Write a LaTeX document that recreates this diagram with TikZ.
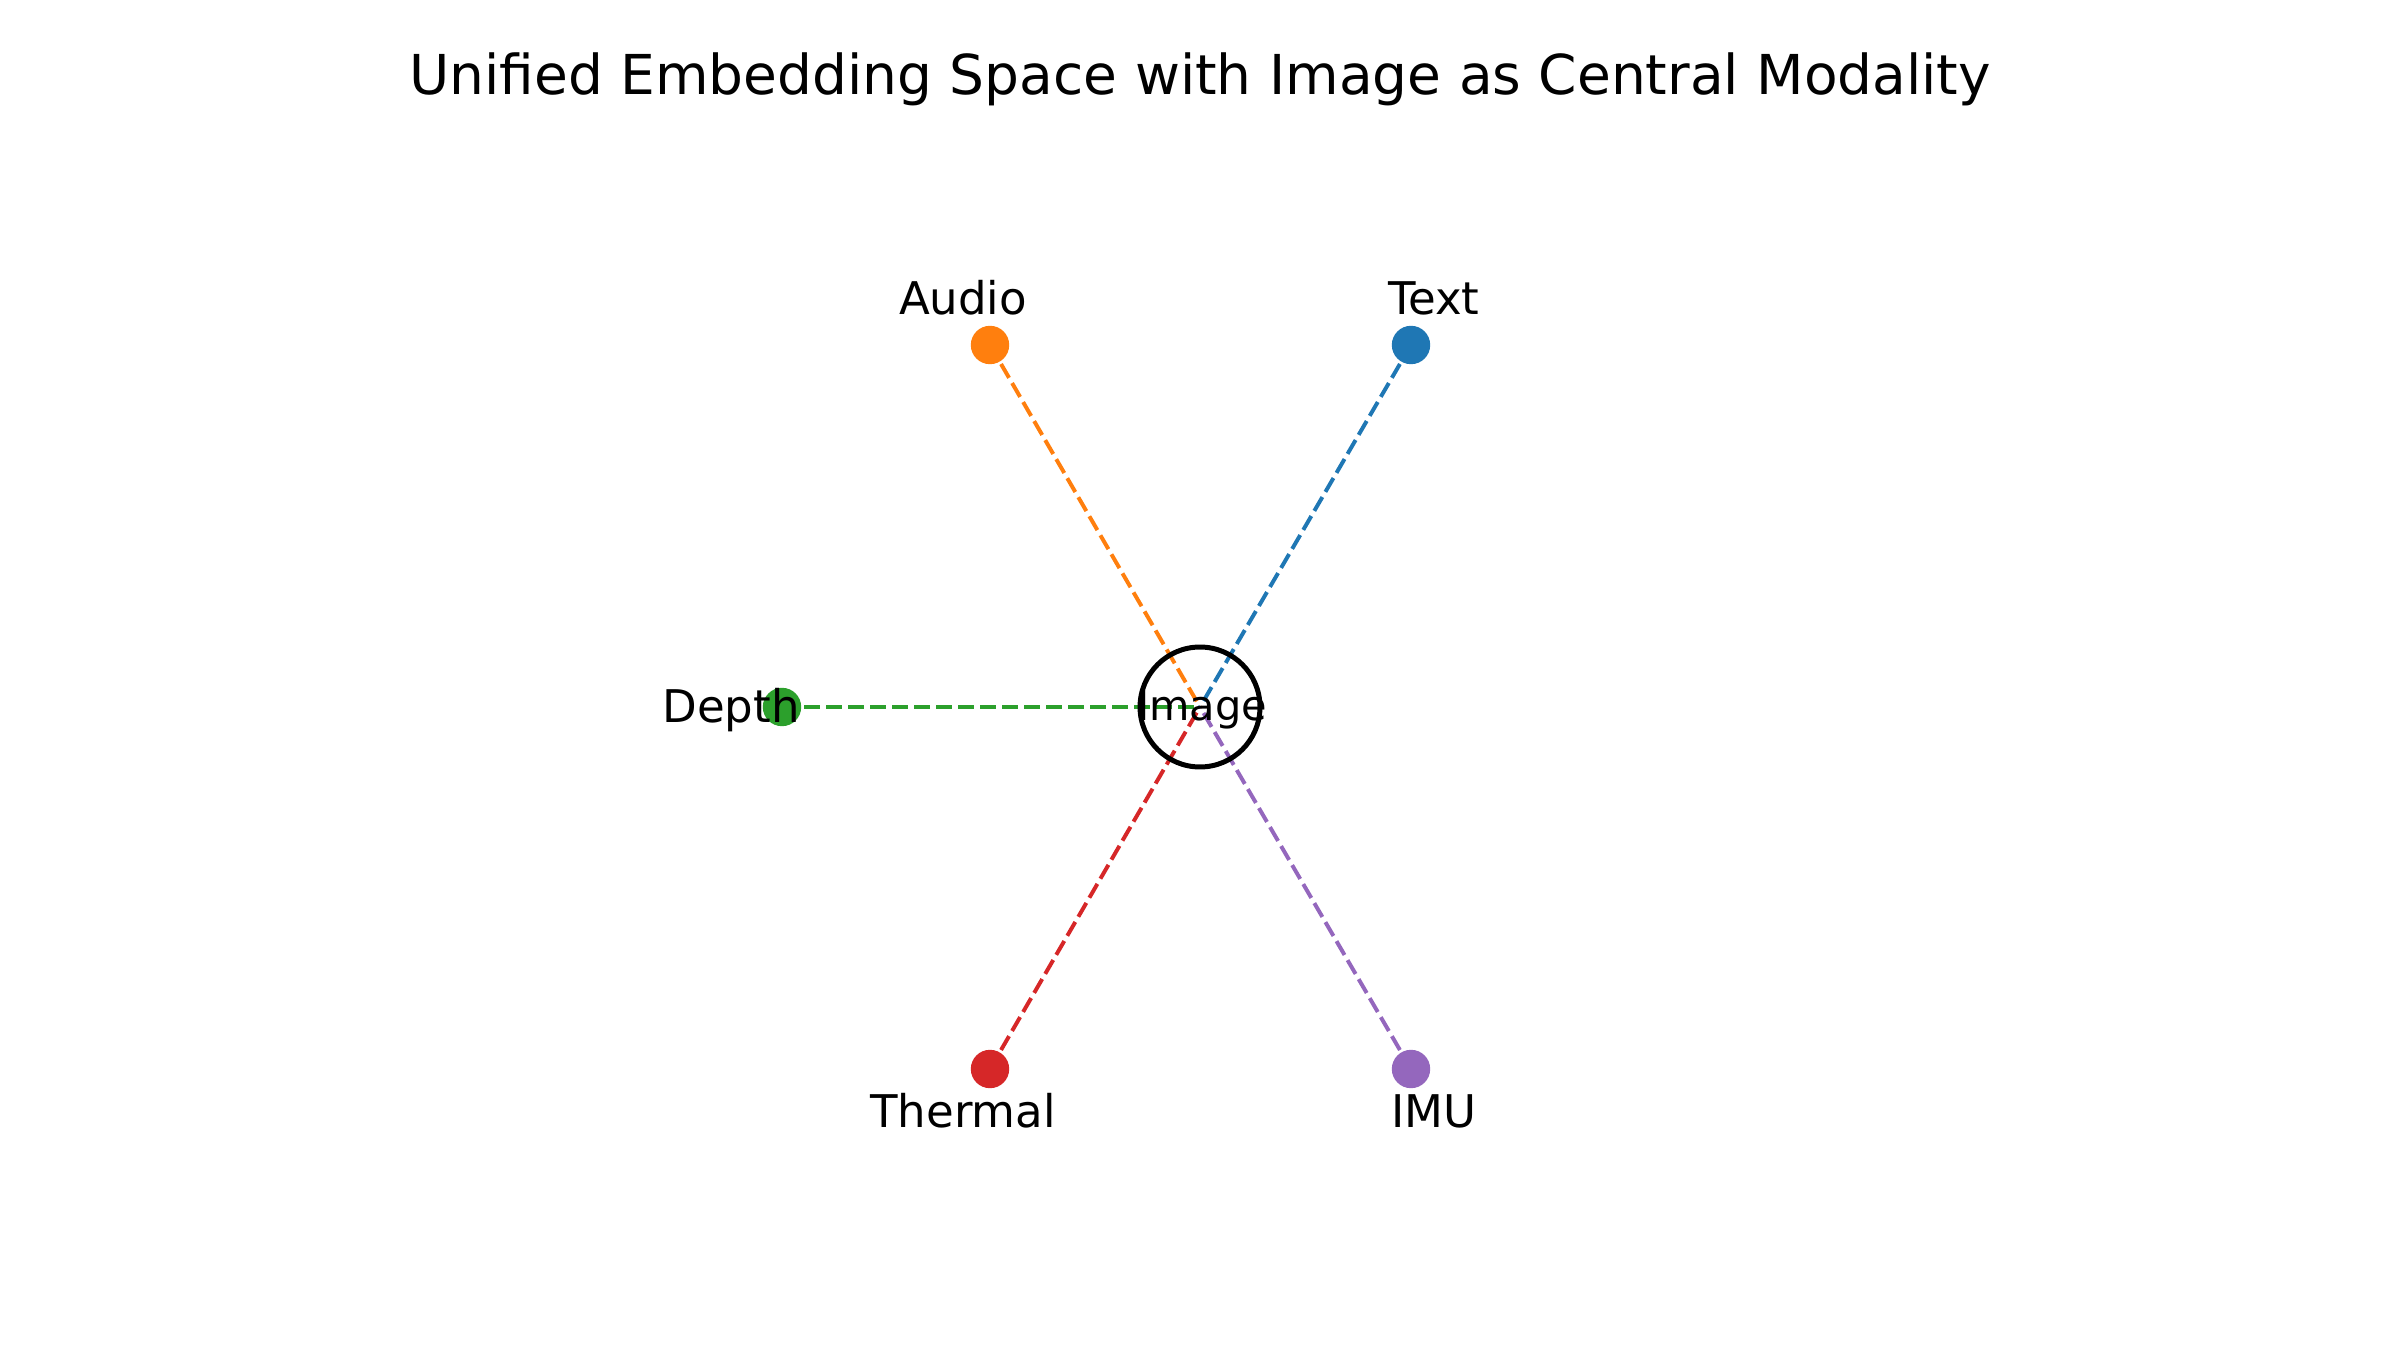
\documentclass[tikz,border=0pt]{standalone}
\usepackage{fontspec}
\setmainfont{DejaVu Sans}
\usepackage{tikz}
\usetikzlibrary{positioning,calc,backgrounds}
\definecolor{textcol}{HTML}{1F77B4}
\definecolor{audiocol}{HTML}{FF7F0E}
\definecolor{depthcol}{HTML}{2CA02C}
\definecolor{thermcol}{HTML}{D62728}
\definecolor{imucol}{HTML}{9467BD}

\begin{document}
\begin{tikzpicture}[x=0.4818pt,y=-0.4818pt,
  dot/.style={circle,inner sep=0pt,minimum size=18.5pt},
  hub/.style={circle,draw,line width=2.4pt,minimum size=57.8pt,inner sep=0pt},
  lbl/.style={anchor=base,inner sep=0pt,font=\fontsize{21.7}{26}\selectfont},
  link/.style={line width=1.9pt,dash pattern=on 7.7pt off 2.9pt}]
  \useasboundingbox (0,0) rectangle (2400,1350);
  % title
  \node[lbl,font=\fontsize{26.5}{32}\selectfont] (title) at (1200,95) {Unified Embedding Space with Image as Central Modality};
  % centre and modalities
  \node[hub] (img) at (1200,707) {};
  \node[dot,fill=textcol] (text) at (1411,345) {};
  \node[dot,fill=audiocol] (audio) at (990,345) {};
  \node[dot,fill=depthcol] (depth) at (782,707) {};
  \node[dot,fill=thermcol] (therm) at (990,1069) {};
  \node[dot,fill=imucol] (imu) at (1411,1069) {};
  \begin{scope}[on background layer]
    \draw[link,textcol] (text.center)--(img.center);
    \draw[link,audiocol] (audio.center)--(img.center);
    \draw[link,depthcol] (depth.center)--(img.center);
    \draw[link,thermcol] (therm.center)--(img.center);
    \draw[link,imucol] (imu.center)--(img.center);
  \end{scope}
  % labels
  \node[lbl,font=\fontsize{20}{24}\selectfont] (limg) at (1202,720) {Image};
  \node[lbl] (ltext) at (1434,315) {Text};
  \node[lbl] (laudio) at (963,315) {Audio};
  \node[lbl] (ldepth) at (731,722) {Depth};
  \node[lbl] (ltherm) at (963,1127) {Thermal};
  \node[lbl] (limu) at (1434,1127) {IMU};
\end{tikzpicture}
\end{document}
